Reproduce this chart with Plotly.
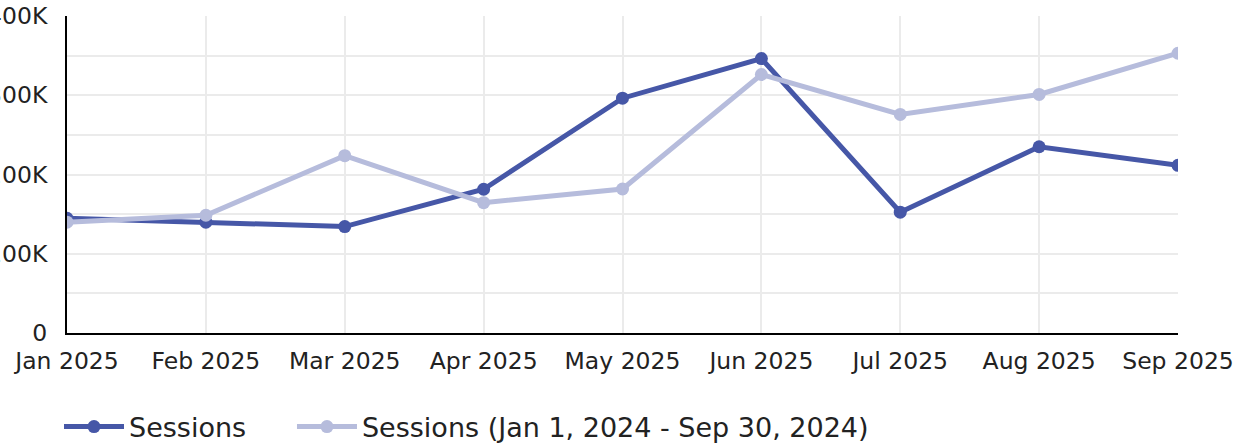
import plotly.graph_objects as go

months = ["Jan 2025", "Feb 2025", "Mar 2025", "Apr 2025", "May 2025",
          "Jun 2025", "Jul 2025", "Aug 2025", "Sep 2025"]
sessions = [144800, 139800, 134300, 181400, 296300, 346300, 152400, 235000, 211600]
sessions_prev = [139800, 148600, 223700, 164500, 181700, 326200, 275800, 301000, 353000]
y_tickvals = [0, 100000, 200000, 300000, 400000]
y_ticktext = ["0", "100K", "200K", "300K", "400K"]

DARK = "#4657A7"
LIGHT = "#B6BCDC"
FONT = "DejaVu Sans"

fig = go.Figure()
fig.add_trace(go.Scatter(x=months, y=sessions, name="Sessions", mode="lines+markers",
                         line=dict(color=DARK, width=5), marker=dict(size=13, color=DARK),
                         legend="legend"))
fig.add_trace(go.Scatter(x=months, y=sessions_prev, name="Sessions (Jan 1, 2024 - Sep 30, 2024)",
                         mode="lines+markers",
                         line=dict(color=LIGHT, width=5), marker=dict(size=13, color=LIGHT),
                         legend="legend2"))

legend_common = dict(orientation="h", xanchor="left", y=-0.2965, yanchor="middle",
                     font=dict(size=27, color="#222222"), itemwidth=60,
                     bgcolor="rgba(0,0,0,0)")

fig.update_layout(
    width=1233, height=448,
    margin=dict(l=67, r=55, t=16, b=115, autoexpand=False),
    plot_bgcolor="white", paper_bgcolor="white",
    font=dict(family=FONT, size=23.5, color="#222222"),
    showlegend=True,
    legend=dict(x=-0.0072, **legend_common),
    legend2=dict(x=0.2025, **legend_common),
    xaxis=dict(type="category", range=[0, 8], showgrid=True, gridcolor="#EBEBEB", gridwidth=2,
               showline=True, linecolor="black", linewidth=2, ticks="", zeroline=False,
               automargin=False, ticklabelstandoff=6, tickfont=dict(size=23.5)),
    yaxis=dict(range=[0, 400000], tickvals=y_tickvals, ticktext=y_ticktext,
               showgrid=True, gridcolor="#EBEBEB", gridwidth=2,
               minor=dict(dtick=50000, showgrid=True, gridcolor="#EBEBEB", gridwidth=2),
               showline=True, linecolor="black", linewidth=2, ticks="", zeroline=False,
               automargin=False, ticklabelstandoff=13, tickfont=dict(size=23.5)),
)

fig.write_html("out.html", config={"displayModeBar": False},
               post_script="document.body.style.margin='0';")
